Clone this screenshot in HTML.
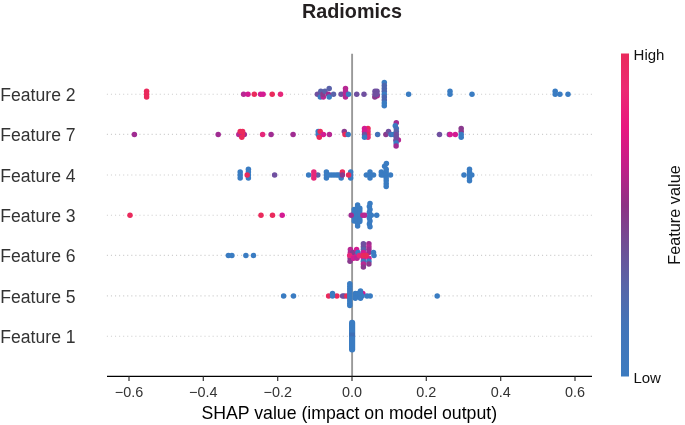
<!DOCTYPE html>
<html><head><meta charset="utf-8"><title>Radiomics</title>
<style>
html,body{margin:0;padding:0;background:#fff;}
body{width:685px;height:425px;overflow:hidden;}
svg{display:block;will-change:transform;}
text{font-family:"Liberation Sans",sans-serif;}
.yl{font-size:17.6px;fill:#333;}
.tl{font-size:14.4px;fill:#333;}
.xl{font-size:17.7px;fill:#000;}
.cb{font-size:15px;fill:#111;}
.fv{font-size:16.3px;fill:#111;}
.title{font-size:19.8px;font-weight:bold;fill:#231f20;}
</style></head>
<body>
<svg width="685" height="425" viewBox="0 0 685 425">
<defs>
<linearGradient id="cbg" x1="0" y1="0" x2="0" y2="1">
<stop offset="0" stop-color="#ea2a5c"/>
<stop offset="0.11" stop-color="#eb2a72"/>
<stop offset="0.23" stop-color="#e8167f"/>
<stop offset="0.35" stop-color="#c21e88"/>
<stop offset="0.47" stop-color="#8e3284"/>
<stop offset="0.60" stop-color="#6e4f96"/>
<stop offset="0.72" stop-color="#5865a8"/>
<stop offset="0.84" stop-color="#4374b8"/>
<stop offset="1" stop-color="#3c7bc0"/>
</linearGradient>
</defs>
<rect width="685" height="425" fill="#fff"/>
<text x="352" y="18.3" text-anchor="middle" class="title">Radiomics</text>
<line x1="106.85" y1="94.2" x2="592" y2="94.2" stroke="#cfcfcf" stroke-width="1.1" stroke-dasharray="1.1 2.967"/>
<line x1="106.85" y1="134.4" x2="592" y2="134.4" stroke="#cfcfcf" stroke-width="1.1" stroke-dasharray="1.1 2.967"/>
<line x1="106.85" y1="175.0" x2="592" y2="175.0" stroke="#cfcfcf" stroke-width="1.1" stroke-dasharray="1.1 2.967"/>
<line x1="106.85" y1="215.2" x2="592" y2="215.2" stroke="#cfcfcf" stroke-width="1.1" stroke-dasharray="1.1 2.967"/>
<line x1="106.85" y1="255.4" x2="592" y2="255.4" stroke="#cfcfcf" stroke-width="1.1" stroke-dasharray="1.1 2.967"/>
<line x1="106.85" y1="295.9" x2="592" y2="295.9" stroke="#cfcfcf" stroke-width="1.1" stroke-dasharray="1.1 2.967"/>
<line x1="106.85" y1="336.3" x2="592" y2="336.3" stroke="#cfcfcf" stroke-width="1.1" stroke-dasharray="1.1 2.967"/>
<line x1="352.1" y1="53.8" x2="352.1" y2="376.4" stroke="#999" stroke-width="1.9"/>
<circle cx="146.6" cy="91.30" r="2.75" fill="#ea2a5c"/>
<circle cx="146.6" cy="94.20" r="2.75" fill="#ea2a5c"/>
<circle cx="146.6" cy="97.10" r="2.75" fill="#ea2a5c"/>
<circle cx="243.6" cy="94.20" r="2.75" fill="#b72893"/>
<circle cx="248.0" cy="94.20" r="2.75" fill="#d41b92"/>
<circle cx="254.3" cy="94.20" r="2.75" fill="#ea2a5c"/>
<circle cx="260.6" cy="94.20" r="2.75" fill="#d41b92"/>
<circle cx="263.1" cy="94.20" r="2.75" fill="#d41b92"/>
<circle cx="272.2" cy="94.20" r="2.75" fill="#ea2a5c"/>
<circle cx="280.5" cy="94.20" r="2.75" fill="#e6277a"/>
<circle cx="317.4" cy="94.20" r="2.75" fill="#7050a0"/>
<circle cx="320.8" cy="91.30" r="2.75" fill="#5a62aa"/>
<circle cx="320.3" cy="97.10" r="2.75" fill="#3a7cc2"/>
<circle cx="323.3" cy="97.10" r="2.75" fill="#b72893"/>
<circle cx="322.9" cy="94.20" r="2.75" fill="#8a3a8e"/>
<circle cx="325.0" cy="91.30" r="2.75" fill="#5a62aa"/>
<circle cx="329.2" cy="88.40" r="2.75" fill="#5a62aa"/>
<circle cx="328.4" cy="94.20" r="2.75" fill="#a02c92"/>
<circle cx="329.2" cy="97.10" r="2.75" fill="#3a7cc2"/>
<circle cx="333.5" cy="94.20" r="2.75" fill="#5a62aa"/>
<circle cx="341.1" cy="94.20" r="2.75" fill="#7050a0"/>
<circle cx="345.5" cy="88.40" r="2.75" fill="#b72893"/>
<circle cx="345.5" cy="91.30" r="2.75" fill="#b72893"/>
<circle cx="345.5" cy="97.10" r="2.75" fill="#b72893"/>
<circle cx="345.5" cy="94.20" r="2.75" fill="#b72893"/>
<circle cx="348.5" cy="94.20" r="2.75" fill="#3a7cc2"/>
<circle cx="356.7" cy="94.20" r="2.75" fill="#7050a0"/>
<circle cx="364.0" cy="94.20" r="2.75" fill="#7050a0"/>
<circle cx="377.2" cy="95.80" r="2.75" fill="#b72893"/>
<circle cx="374.8" cy="97.10" r="2.75" fill="#8a3a8e"/>
<circle cx="375.0" cy="91.30" r="2.75" fill="#7050a0"/>
<circle cx="377.0" cy="91.30" r="2.75" fill="#7050a0"/>
<circle cx="375.0" cy="94.20" r="2.75" fill="#7050a0"/>
<circle cx="377.0" cy="94.20" r="2.75" fill="#7050a0"/>
<circle cx="384.3" cy="82.60" r="2.75" fill="#3a7cc2"/>
<circle cx="384.3" cy="85.50" r="2.75" fill="#4d66ae"/>
<circle cx="384.3" cy="88.40" r="2.75" fill="#4d66ae"/>
<circle cx="384.3" cy="91.30" r="2.75" fill="#4d66ae"/>
<circle cx="384.3" cy="94.20" r="2.75" fill="#3a7cc2"/>
<circle cx="384.3" cy="97.10" r="2.75" fill="#4d66ae"/>
<circle cx="384.3" cy="100.00" r="2.75" fill="#4d66ae"/>
<circle cx="384.3" cy="102.90" r="2.75" fill="#3a7cc2"/>
<circle cx="384.3" cy="105.80" r="2.75" fill="#3a7cc2"/>
<circle cx="408.6" cy="94.20" r="2.75" fill="#3a7cc2"/>
<circle cx="450.0" cy="91.30" r="2.75" fill="#3a7cc2"/>
<circle cx="450.0" cy="94.20" r="2.75" fill="#3a7cc2"/>
<circle cx="472.0" cy="94.20" r="2.75" fill="#3a7cc2"/>
<circle cx="555.2" cy="91.30" r="2.75" fill="#3a7cc2"/>
<circle cx="555.2" cy="94.20" r="2.75" fill="#3a7cc2"/>
<circle cx="559.9" cy="94.20" r="2.75" fill="#3a7cc2"/>
<circle cx="568.0" cy="94.20" r="2.75" fill="#3a7cc2"/>
<circle cx="134.4" cy="134.40" r="2.75" fill="#a02c92"/>
<circle cx="218.2" cy="134.40" r="2.75" fill="#a02c92"/>
<circle cx="244.3" cy="134.40" r="2.75" fill="#a02c92"/>
<circle cx="242.4" cy="134.40" r="2.75" fill="#ea2a5c"/>
<circle cx="238.8" cy="134.40" r="2.75" fill="#b72893"/>
<circle cx="240.2" cy="131.50" r="2.75" fill="#ea2a5c"/>
<circle cx="242.6" cy="131.50" r="2.75" fill="#ea2a5c"/>
<circle cx="241.8" cy="137.30" r="2.75" fill="#ea2a5c"/>
<circle cx="262.6" cy="134.40" r="2.75" fill="#e6277a"/>
<circle cx="271.1" cy="134.40" r="2.75" fill="#a02c92"/>
<circle cx="293.1" cy="134.40" r="2.75" fill="#a02c92"/>
<circle cx="318.2" cy="131.50" r="2.75" fill="#3a7cc2"/>
<circle cx="318.2" cy="134.40" r="2.75" fill="#3a7cc2"/>
<circle cx="320.2" cy="131.50" r="2.75" fill="#ea2a5c"/>
<circle cx="319.3" cy="137.30" r="2.75" fill="#ea2a5c"/>
<circle cx="323.4" cy="134.40" r="2.75" fill="#d41b92"/>
<circle cx="329.4" cy="134.40" r="2.75" fill="#b72893"/>
<circle cx="344.3" cy="131.50" r="2.75" fill="#8a3a8e"/>
<circle cx="345.0" cy="134.40" r="2.75" fill="#ea2a5c"/>
<circle cx="348.2" cy="134.40" r="2.75" fill="#3a7cc2"/>
<circle cx="368.0" cy="128.60" r="2.75" fill="#ea2a5c"/>
<circle cx="368.0" cy="131.50" r="2.75" fill="#e6277a"/>
<circle cx="368.0" cy="134.40" r="2.75" fill="#ea2a5c"/>
<circle cx="368.0" cy="137.30" r="2.75" fill="#e6277a"/>
<circle cx="364.5" cy="128.60" r="2.75" fill="#d41b92"/>
<circle cx="364.5" cy="131.50" r="2.75" fill="#d41b92"/>
<circle cx="364.5" cy="134.40" r="2.75" fill="#7050a0"/>
<circle cx="364.5" cy="137.30" r="2.75" fill="#3a7cc2"/>
<circle cx="377.6" cy="134.40" r="2.75" fill="#4472ba"/>
<circle cx="385.9" cy="134.40" r="2.75" fill="#8a3a8e"/>
<circle cx="388.5" cy="131.50" r="2.75" fill="#7050a0"/>
<circle cx="391.0" cy="134.40" r="2.75" fill="#4472ba"/>
<circle cx="393.6" cy="134.40" r="2.75" fill="#3a7cc2"/>
<circle cx="398.4" cy="139.91" r="2.75" fill="#b72893"/>
<circle cx="396.3" cy="122.80" r="2.75" fill="#a02c92"/>
<circle cx="395.3" cy="125.70" r="2.75" fill="#3a7cc2"/>
<circle cx="396.3" cy="128.60" r="2.75" fill="#4472ba"/>
<circle cx="396.3" cy="131.50" r="2.75" fill="#5a62aa"/>
<circle cx="396.3" cy="134.40" r="2.75" fill="#7050a0"/>
<circle cx="396.3" cy="137.30" r="2.75" fill="#7050a0"/>
<circle cx="395.9" cy="140.20" r="2.75" fill="#7050a0"/>
<circle cx="396.1" cy="143.10" r="2.75" fill="#3a7cc2"/>
<circle cx="396.1" cy="146.00" r="2.75" fill="#a02c92"/>
<circle cx="439.5" cy="134.40" r="2.75" fill="#7050a0"/>
<circle cx="449.3" cy="134.40" r="2.75" fill="#7050a0"/>
<circle cx="450.2" cy="134.40" r="2.75" fill="#d41b92"/>
<circle cx="455.3" cy="134.40" r="2.75" fill="#d41b92"/>
<circle cx="461.2" cy="128.60" r="2.75" fill="#8a3a8e"/>
<circle cx="461.2" cy="131.50" r="2.75" fill="#8a3a8e"/>
<circle cx="461.2" cy="134.40" r="2.75" fill="#3a7cc2"/>
<circle cx="461.2" cy="137.30" r="2.75" fill="#3a7cc2"/>
<circle cx="240.2" cy="172.10" r="2.75" fill="#3a7cc2"/>
<circle cx="240.2" cy="175.00" r="2.75" fill="#3a7cc2"/>
<circle cx="240.2" cy="177.90" r="2.75" fill="#3a7cc2"/>
<circle cx="248.4" cy="169.20" r="2.75" fill="#3a7cc2"/>
<circle cx="248.4" cy="172.10" r="2.75" fill="#3a7cc2"/>
<circle cx="248.4" cy="175.00" r="2.75" fill="#3a7cc2"/>
<circle cx="248.4" cy="177.90" r="2.75" fill="#3a7cc2"/>
<circle cx="247.2" cy="175.00" r="2.75" fill="#ea2a5c"/>
<circle cx="274.6" cy="175.00" r="2.75" fill="#7050a0"/>
<circle cx="308.6" cy="175.00" r="2.75" fill="#3a7cc2"/>
<circle cx="317.8" cy="175.00" r="2.75" fill="#5a62aa"/>
<circle cx="313.8" cy="172.10" r="2.75" fill="#e6277a"/>
<circle cx="313.8" cy="175.00" r="2.75" fill="#e6277a"/>
<circle cx="313.8" cy="177.90" r="2.75" fill="#e6277a"/>
<circle cx="326.4" cy="172.10" r="2.75" fill="#3a7cc2"/>
<circle cx="326.4" cy="175.00" r="2.75" fill="#3a7cc2"/>
<circle cx="326.4" cy="177.90" r="2.75" fill="#3a7cc2"/>
<circle cx="329.0" cy="175.00" r="2.75" fill="#3a7cc2"/>
<circle cx="331.5" cy="175.00" r="2.75" fill="#3a7cc2"/>
<circle cx="334.0" cy="175.00" r="2.75" fill="#3a7cc2"/>
<circle cx="336.5" cy="175.00" r="2.75" fill="#3a7cc2"/>
<circle cx="338.5" cy="175.00" r="2.75" fill="#3a7cc2"/>
<circle cx="340.5" cy="175.00" r="2.75" fill="#3a7cc2"/>
<circle cx="341.2" cy="177.90" r="2.75" fill="#3a7cc2"/>
<circle cx="342.4" cy="172.10" r="2.75" fill="#ea2a5c"/>
<circle cx="342.4" cy="175.00" r="2.75" fill="#8a3a8e"/>
<circle cx="350.7" cy="172.10" r="2.75" fill="#3a7cc2"/>
<circle cx="350.7" cy="175.00" r="2.75" fill="#3a7cc2"/>
<circle cx="350.7" cy="177.90" r="2.75" fill="#3a7cc2"/>
<circle cx="348.6" cy="175.00" r="2.75" fill="#ea2a5c"/>
<circle cx="366.4" cy="175.00" r="2.75" fill="#3a7cc2"/>
<circle cx="370.0" cy="172.10" r="2.75" fill="#3a7cc2"/>
<circle cx="370.0" cy="175.00" r="2.75" fill="#3a7cc2"/>
<circle cx="370.0" cy="177.90" r="2.75" fill="#3a7cc2"/>
<circle cx="373.5" cy="175.00" r="2.75" fill="#3a7cc2"/>
<circle cx="381.3" cy="172.10" r="2.75" fill="#3a7cc2"/>
<circle cx="381.3" cy="175.00" r="2.75" fill="#3a7cc2"/>
<circle cx="383.5" cy="175.00" r="2.75" fill="#3a7cc2"/>
<circle cx="384.6" cy="166.30" r="2.75" fill="#3a7cc2"/>
<circle cx="386.4" cy="163.40" r="2.75" fill="#3a7cc2"/>
<circle cx="386.2" cy="169.20" r="2.75" fill="#3a7cc2"/>
<circle cx="386.2" cy="172.10" r="2.75" fill="#3a7cc2"/>
<circle cx="386.2" cy="175.00" r="2.75" fill="#3a7cc2"/>
<circle cx="386.2" cy="177.90" r="2.75" fill="#3a7cc2"/>
<circle cx="386.2" cy="180.80" r="2.75" fill="#3a7cc2"/>
<circle cx="386.2" cy="183.70" r="2.75" fill="#3a7cc2"/>
<circle cx="386.2" cy="186.60" r="2.75" fill="#3a7cc2"/>
<circle cx="390.5" cy="175.00" r="2.75" fill="#3a7cc2"/>
<circle cx="464.0" cy="175.00" r="2.75" fill="#3a7cc2"/>
<circle cx="469.5" cy="169.20" r="2.75" fill="#3a7cc2"/>
<circle cx="469.5" cy="172.10" r="2.75" fill="#3a7cc2"/>
<circle cx="469.5" cy="175.00" r="2.75" fill="#3a7cc2"/>
<circle cx="469.5" cy="177.90" r="2.75" fill="#3a7cc2"/>
<circle cx="469.5" cy="180.80" r="2.75" fill="#3a7cc2"/>
<circle cx="471.8" cy="175.00" r="2.75" fill="#3a7cc2"/>
<circle cx="130.0" cy="215.20" r="2.75" fill="#ea2a5c"/>
<circle cx="261.0" cy="215.20" r="2.75" fill="#ea2a5c"/>
<circle cx="272.5" cy="215.20" r="2.75" fill="#ea2a5c"/>
<circle cx="282.2" cy="215.20" r="2.75" fill="#d41b92"/>
<circle cx="354.2" cy="209.40" r="2.75" fill="#3a7cc2"/>
<circle cx="354.2" cy="212.30" r="2.75" fill="#3a7cc2"/>
<circle cx="354.2" cy="215.20" r="2.75" fill="#3a7cc2"/>
<circle cx="354.2" cy="218.10" r="2.75" fill="#3a7cc2"/>
<circle cx="354.2" cy="221.00" r="2.75" fill="#3a7cc2"/>
<circle cx="357.6" cy="204.90" r="2.75" fill="#3a7cc2"/>
<circle cx="357.6" cy="207.54" r="2.75" fill="#3a7cc2"/>
<circle cx="357.6" cy="210.18" r="2.75" fill="#3a7cc2"/>
<circle cx="357.6" cy="212.81" r="2.75" fill="#3a7cc2"/>
<circle cx="357.6" cy="215.45" r="2.75" fill="#3a7cc2"/>
<circle cx="357.6" cy="218.09" r="2.75" fill="#3a7cc2"/>
<circle cx="357.6" cy="220.72" r="2.75" fill="#3a7cc2"/>
<circle cx="357.6" cy="223.36" r="2.75" fill="#3a7cc2"/>
<circle cx="357.6" cy="226.00" r="2.75" fill="#3a7cc2"/>
<circle cx="359.8" cy="208.24" r="2.75" fill="#3a7cc2"/>
<circle cx="359.8" cy="210.85" r="2.75" fill="#3a7cc2"/>
<circle cx="359.8" cy="213.75" r="2.75" fill="#3a7cc2"/>
<circle cx="359.8" cy="216.65" r="2.75" fill="#3a7cc2"/>
<circle cx="359.8" cy="219.55" r="2.75" fill="#3a7cc2"/>
<circle cx="359.8" cy="221.58" r="2.75" fill="#3a7cc2"/>
<circle cx="351.2" cy="215.20" r="2.75" fill="#a02c92"/>
<circle cx="362.9" cy="215.20" r="2.75" fill="#b72893"/>
<circle cx="364.9" cy="215.20" r="2.75" fill="#b72893"/>
<circle cx="370.0" cy="203.60" r="2.75" fill="#3a7cc2"/>
<circle cx="369.4" cy="206.50" r="2.75" fill="#3a7cc2"/>
<circle cx="370.0" cy="209.40" r="2.75" fill="#3a7cc2"/>
<circle cx="369.4" cy="212.30" r="2.75" fill="#3a7cc2"/>
<circle cx="370.0" cy="215.20" r="2.75" fill="#3a7cc2"/>
<circle cx="369.4" cy="218.10" r="2.75" fill="#3a7cc2"/>
<circle cx="370.0" cy="221.00" r="2.75" fill="#3a7cc2"/>
<circle cx="369.4" cy="223.90" r="2.75" fill="#3a7cc2"/>
<circle cx="370.0" cy="226.80" r="2.75" fill="#3a7cc2"/>
<circle cx="371.3" cy="215.20" r="2.75" fill="#3a7cc2"/>
<circle cx="376.7" cy="215.20" r="2.75" fill="#3a7cc2"/>
<circle cx="228.4" cy="255.40" r="2.75" fill="#3a7cc2"/>
<circle cx="231.9" cy="255.40" r="2.75" fill="#3a7cc2"/>
<circle cx="245.9" cy="255.40" r="2.75" fill="#3a7cc2"/>
<circle cx="253.5" cy="255.40" r="2.75" fill="#3a7cc2"/>
<circle cx="350.2" cy="258.30" r="2.75" fill="#8a3a8e"/>
<circle cx="350.0" cy="261.20" r="2.75" fill="#8a3a8e"/>
<circle cx="350.4" cy="252.50" r="2.75" fill="#b72893"/>
<circle cx="350.4" cy="249.60" r="2.75" fill="#b72893"/>
<circle cx="353.5" cy="255.40" r="2.75" fill="#e6277a"/>
<circle cx="355.5" cy="252.50" r="2.75" fill="#7050a0"/>
<circle cx="352.8" cy="252.50" r="2.75" fill="#8a3a8e"/>
<circle cx="349.7" cy="255.40" r="2.75" fill="#e6277a"/>
<circle cx="353.5" cy="258.30" r="2.75" fill="#d41b92"/>
<circle cx="356.6" cy="249.60" r="2.75" fill="#d41b92"/>
<circle cx="357.0" cy="255.40" r="2.75" fill="#d41b92"/>
<circle cx="358.0" cy="252.50" r="2.75" fill="#3a7cc2"/>
<circle cx="357.0" cy="258.30" r="2.75" fill="#b72893"/>
<circle cx="359.3" cy="255.40" r="2.75" fill="#e6277a"/>
<circle cx="363.4" cy="243.80" r="2.75" fill="#7050a0"/>
<circle cx="363.4" cy="246.70" r="2.75" fill="#7050a0"/>
<circle cx="363.4" cy="249.60" r="2.75" fill="#5a62aa"/>
<circle cx="363.4" cy="252.50" r="2.75" fill="#d41b92"/>
<circle cx="363.4" cy="258.30" r="2.75" fill="#d41b92"/>
<circle cx="363.4" cy="261.20" r="2.75" fill="#4472ba"/>
<circle cx="363.4" cy="264.10" r="2.75" fill="#b72893"/>
<circle cx="363.4" cy="267.00" r="2.75" fill="#8a3a8e"/>
<circle cx="368.9" cy="243.80" r="2.75" fill="#a02c92"/>
<circle cx="368.9" cy="246.70" r="2.75" fill="#b72893"/>
<circle cx="368.9" cy="249.60" r="2.75" fill="#a02c92"/>
<circle cx="368.9" cy="252.50" r="2.75" fill="#a02c92"/>
<circle cx="368.9" cy="258.30" r="2.75" fill="#d41b92"/>
<circle cx="368.9" cy="261.20" r="2.75" fill="#3a7cc2"/>
<circle cx="368.9" cy="264.10" r="2.75" fill="#8a3a8e"/>
<circle cx="373.5" cy="252.50" r="2.75" fill="#3a7cc2"/>
<circle cx="374.0" cy="255.40" r="2.75" fill="#3a7cc2"/>
<circle cx="363.4" cy="255.40" r="2.75" fill="#ea2a5c"/>
<circle cx="366.2" cy="255.40" r="2.75" fill="#ea2a5c"/>
<circle cx="283.6" cy="295.90" r="2.75" fill="#3a7cc2"/>
<circle cx="293.5" cy="295.90" r="2.75" fill="#3a7cc2"/>
<circle cx="328.6" cy="295.90" r="2.75" fill="#ea2a5c"/>
<circle cx="336.9" cy="295.90" r="2.75" fill="#ea2a5c"/>
<circle cx="332.5" cy="293.48" r="2.75" fill="#3a7cc2"/>
<circle cx="332.5" cy="295.90" r="2.75" fill="#3a7cc2"/>
<circle cx="342.6" cy="295.90" r="2.75" fill="#7050a0"/>
<circle cx="344.3" cy="295.90" r="2.75" fill="#7050a0"/>
<circle cx="346.8" cy="295.90" r="2.75" fill="#ea2a5c"/>
<circle cx="362.8" cy="293.48" r="2.75" fill="#d41b92"/>
<circle cx="355.3" cy="293.48" r="2.75" fill="#3a7cc2"/>
<circle cx="355.3" cy="295.90" r="2.75" fill="#3a7cc2"/>
<circle cx="355.3" cy="298.32" r="2.75" fill="#3a7cc2"/>
<circle cx="358.0" cy="295.90" r="2.75" fill="#3a7cc2"/>
<circle cx="358.0" cy="293.48" r="2.75" fill="#3a7cc2"/>
<circle cx="360.5" cy="291.06" r="2.75" fill="#3a7cc2"/>
<circle cx="360.5" cy="293.48" r="2.75" fill="#3a7cc2"/>
<circle cx="360.5" cy="295.90" r="2.75" fill="#3a7cc2"/>
<circle cx="360.5" cy="298.32" r="2.75" fill="#3a7cc2"/>
<circle cx="362.0" cy="295.90" r="2.75" fill="#3a7cc2"/>
<circle cx="367.0" cy="295.90" r="2.75" fill="#3a7cc2"/>
<circle cx="370.2" cy="295.90" r="2.75" fill="#3a7cc2"/>
<circle cx="437.2" cy="295.90" r="2.75" fill="#3a7cc2"/>
<circle cx="349.8" cy="283.80" r="2.75" fill="#3a7cc2"/>
<circle cx="349.8" cy="286.22" r="2.75" fill="#3a7cc2"/>
<circle cx="349.8" cy="288.64" r="2.75" fill="#3a7cc2"/>
<circle cx="349.8" cy="291.06" r="2.75" fill="#3a7cc2"/>
<circle cx="349.8" cy="293.48" r="2.75" fill="#3a7cc2"/>
<circle cx="349.8" cy="295.90" r="2.75" fill="#3a7cc2"/>
<circle cx="349.8" cy="298.32" r="2.75" fill="#3a7cc2"/>
<circle cx="349.8" cy="300.74" r="2.75" fill="#3a7cc2"/>
<circle cx="349.8" cy="303.16" r="2.75" fill="#3a7cc2"/>
<circle cx="349.8" cy="305.58" r="2.75" fill="#3a7cc2"/>
<rect x="349" y="319.7" width="6.2" height="32.7" rx="3" fill="#3a7cc2"/>
<rect x="349.3" y="332.6" width="5.6" height="3.8" fill="#3d6fb6"/>
<line x1="107" y1="376.4" x2="592" y2="376.4" stroke="#000" stroke-width="1.3"/>
<line x1="129.0" y1="376.4" x2="129.0" y2="381" stroke="#333" stroke-width="1.2"/>
<text x="129.0" y="397.4" text-anchor="middle" class="tl">−0.6</text>
<line x1="203.3" y1="376.4" x2="203.3" y2="381" stroke="#333" stroke-width="1.2"/>
<text x="203.3" y="397.4" text-anchor="middle" class="tl">−0.4</text>
<line x1="277.7" y1="376.4" x2="277.7" y2="381" stroke="#333" stroke-width="1.2"/>
<text x="277.7" y="397.4" text-anchor="middle" class="tl">−0.2</text>
<line x1="352.0" y1="376.4" x2="352.0" y2="381" stroke="#333" stroke-width="1.2"/>
<text x="352.0" y="397.4" text-anchor="middle" class="tl">0.0</text>
<line x1="426.3" y1="376.4" x2="426.3" y2="381" stroke="#333" stroke-width="1.2"/>
<text x="426.3" y="397.4" text-anchor="middle" class="tl">0.2</text>
<line x1="500.7" y1="376.4" x2="500.7" y2="381" stroke="#333" stroke-width="1.2"/>
<text x="500.7" y="397.4" text-anchor="middle" class="tl">0.4</text>
<line x1="575.0" y1="376.4" x2="575.0" y2="381" stroke="#333" stroke-width="1.2"/>
<text x="575.0" y="397.4" text-anchor="middle" class="tl">0.6</text>
<text x="75.6" y="101.2" text-anchor="end" class="yl">Feature 2</text>
<text x="75.6" y="141.4" text-anchor="end" class="yl">Feature 7</text>
<text x="75.6" y="182.0" text-anchor="end" class="yl">Feature 4</text>
<text x="75.6" y="222.2" text-anchor="end" class="yl">Feature 3</text>
<text x="75.6" y="262.4" text-anchor="end" class="yl">Feature 6</text>
<text x="75.6" y="302.9" text-anchor="end" class="yl">Feature 5</text>
<text x="75.6" y="343.3" text-anchor="end" class="yl">Feature 1</text>
<text x="349.3" y="419" text-anchor="middle" class="xl">SHAP value (impact on model output)</text>
<rect x="621" y="53.5" width="8" height="323" fill="url(#cbg)"/>
<text x="633.6" y="59.8" class="cb">High</text>
<text x="633.4" y="382.5" class="cb">Low</text>
<text transform="translate(679.8,215) rotate(-90)" text-anchor="middle" class="fv">Feature value</text>
</svg>
</body></html>
